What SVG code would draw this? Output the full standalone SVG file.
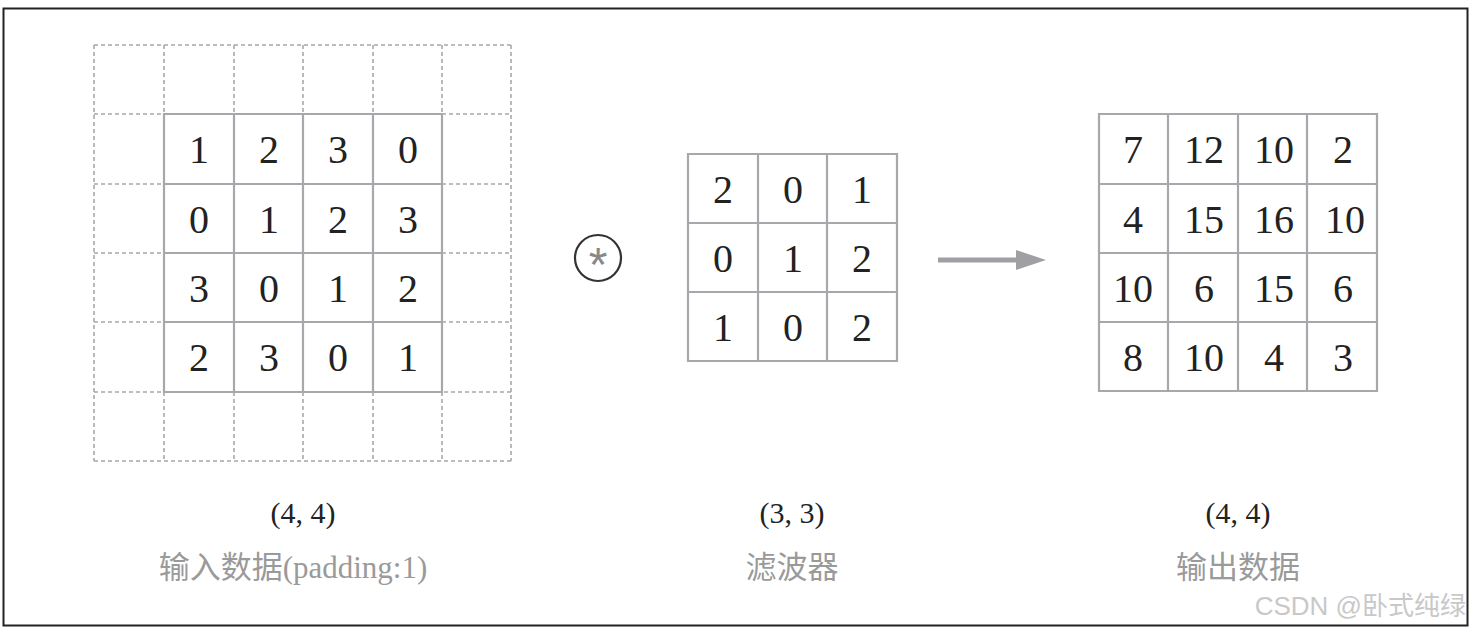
<svg xmlns="http://www.w3.org/2000/svg" width="1474" height="632" viewBox="0 0 1474 632">
<style>
.dash{stroke:#a8a8ac;stroke-width:1.6;stroke-dasharray:4 3;fill:none}
.grid{stroke:#a8a8ac;stroke-width:2.2;fill:none}
.num{font-family:"Liberation Serif","DejaVu Serif",serif;font-size:40px;fill:#222;text-anchor:middle}
.dim{font-family:"Liberation Serif","DejaVu Serif",serif;font-size:30px;fill:#222;text-anchor:middle}
.lab{font-family:"Liberation Serif","Noto Sans CJK SC",serif;font-size:31px;fill:#9a9a9a;text-anchor:middle}
</style>
<defs>
<marker id="ah" markerWidth="6" markerHeight="4" refX="0" refY="2" orient="auto" markerUnits="strokeWidth"><path d="M0,0 L6,2 L0,4 Z" fill="#a0a0a4"/></marker>
</defs>
<rect x="0" y="0" width="1474" height="632" fill="#fff"/>
<rect x="3.5" y="8.5" width="1464" height="617" fill="none" stroke="#222" stroke-width="2"/>

<g id="input">
<path class="dash" d="M94,45H511M94,114H164M442,114H511M94,184H164M442,184H511M94,253H164M442,253H511M94,322H164M442,322H511M94,392H511M94,461H511M94,45V461M164,45V114M234,45V114M303,45V114M373,45V114M442,45V114M511,45V461M164,392V461M234,392V461M303,392V461M373,392V461M442,392V461"/>
<path class="grid" d="M164,114H442V392H164ZM164,184H442M164,253H442M164,322H442M234,114V392M303,114V392M373,114V392"/>
<text class="num" x="199" y="163">1</text><text class="num" x="269" y="163">2</text><text class="num" x="338" y="163">3</text><text class="num" x="408" y="163">0</text>
<text class="num" x="199" y="233">0</text><text class="num" x="269" y="233">1</text><text class="num" x="338" y="233">2</text><text class="num" x="408" y="233">3</text>
<text class="num" x="199" y="302">3</text><text class="num" x="269" y="302">0</text><text class="num" x="338" y="302">1</text><text class="num" x="408" y="302">2</text>
<text class="num" x="199" y="371">2</text><text class="num" x="269" y="371">3</text><text class="num" x="338" y="371">0</text><text class="num" x="408" y="371">1</text>
<text class="dim" x="303" y="523">(4, 4)</text>
<text class="lab" x="293" y="578">输入数据(padding:1)</text>
</g>

<g id="conv">
<circle cx="598" cy="258" r="23" fill="none" stroke="#333" stroke-width="2.2"/>
<text x="598" y="281" font-family="Liberation Sans,DejaVu Sans,sans-serif" font-size="48" fill="#888" text-anchor="middle">*</text>
</g>

<g id="filter">
<path class="grid" d="M688,154H897V361H688ZM688,223H897M688,292H897M758,154V361M827,154V361"/>
<text class="num" x="723" y="203">2</text><text class="num" x="793" y="203">0</text><text class="num" x="862" y="203">1</text>
<text class="num" x="723" y="272">0</text><text class="num" x="793" y="272">1</text><text class="num" x="862" y="272">2</text>
<text class="num" x="723" y="341">1</text><text class="num" x="793" y="341">0</text><text class="num" x="862" y="341">2</text>
<text class="dim" x="792" y="523">(3, 3)</text>
<text class="lab" x="792" y="578">滤波器</text>
</g>

<g id="output">
<path class="grid" d="M1099,114H1377V391H1099ZM1099,184H1377M1099,253H1377M1099,322H1377M1168,114V391M1238,114V391M1307,114V391"/>
<text class="num" x="1133" y="163">7</text><text class="num" x="1204" y="163">12</text><text class="num" x="1274" y="163">10</text><text class="num" x="1343" y="163">2</text>
<text class="num" x="1133" y="233">4</text><text class="num" x="1204" y="233">15</text><text class="num" x="1274" y="233">16</text><text class="num" x="1345" y="233">10</text>
<text class="num" x="1133" y="302">10</text><text class="num" x="1204" y="302">6</text><text class="num" x="1274" y="302">15</text><text class="num" x="1343" y="302">6</text>
<text class="num" x="1133" y="371">8</text><text class="num" x="1204" y="371">10</text><text class="num" x="1274" y="371">4</text><text class="num" x="1343" y="371">3</text>
<text class="dim" x="1238" y="523">(4, 4)</text>
<text class="lab" x="1238" y="578">输出数据</text>
</g>

<g id="connectors">
<line x1="938" y1="260" x2="1016" y2="260" stroke="#a0a0a4" stroke-width="5" marker-end="url(#ah)"/>
</g>

<text x="1466" y="615" font-family="Liberation Sans,Noto Sans CJK SC,sans-serif" font-size="26" fill="#c8c8c8" text-anchor="end">CSDN @卧式纯绿</text>
</svg>
